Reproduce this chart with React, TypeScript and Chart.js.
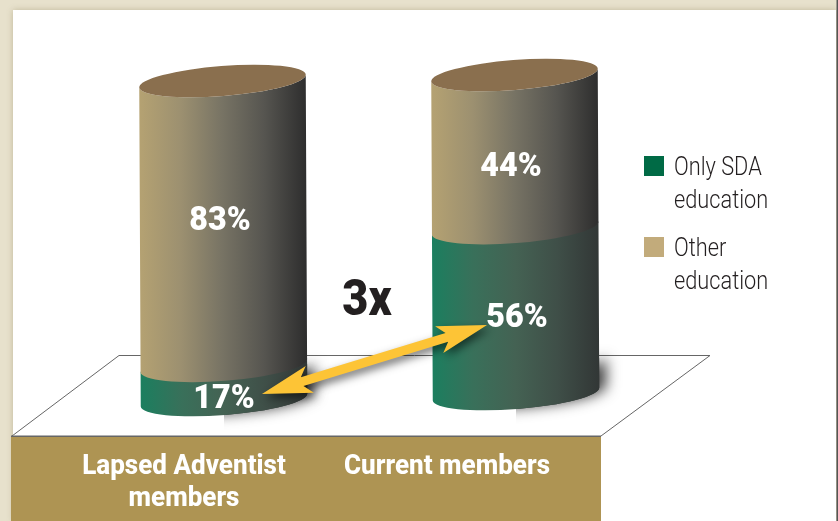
import React, { useEffect, useRef } from "react";
import { Chart, registerables } from "chart.js";

Chart.register(...registerables);

const categories = [["Lapsed Adventist", "members"], ["Current members"]];
// Printed percentages, as labelled in the picture.
const onlySdaLabels = ["17%", "56%"];
const otherLabels = ["83%", "44%"];
// Heights as actually drawn in the picture (the source's art is not to scale with its labels).
const onlySdaDrawn = [10.7, 52];
const otherDrawn = [89.3, 48];
const legendOnlySda = ["Only SDA", "education"];
const legendOther = ["Other", "education"];
const callout = "3x";

const COL = {
  page: "#e7e1cc", panel: "#ffffff", base: "#ae9453", line: "#666666",
  top: "#8a6f4e", sda: "#006a45", other: "#c2ab7b", arrow: "#fdc436", ink: "#231f20",
};
const FONT = "Roboto, sans-serif";
const TILT = -0.078;
const A = 83.5, B = 15;
const CYL_DY = [3, -3];
const LEAN = 1.5;

function gradient(ctx: CanvasRenderingContext2D, x0: number, x1: number, stops: string[]) {
  const g = ctx.createLinearGradient(x0, 0, x1, 0);
  stops.forEach((c, i) => g.addColorStop(i / (stops.length - 1), c));
  return g;
}

function text(ctx: CanvasRenderingContext2D, s: string, x: number, y: number, font: string, color: string, sx = 1, align: CanvasTextAlign = "center") {
  ctx.save();
  ctx.font = font;
  ctx.fillStyle = color;
  ctx.textAlign = align;
  ctx.textBaseline = "middle";
  ctx.translate(x, y);
  ctx.scale(sx, 1);
  ctx.fillText(s, 0, 0);
  ctx.restore();
}

function segment(ctx: CanvasRenderingContext2D, xb: number, yb: number, xt: number, yt: number) {
  ctx.beginPath();
  ctx.ellipse(xb, yb, A, B, TILT, 0, Math.PI, false);
  ctx.ellipse(xt, yt, A, B, TILT, Math.PI, 0, true);
  ctx.closePath();
}

function arrow(ctx: CanvasRenderingContext2D, ax: number, ay: number, bx: number, by: number) {
  const L = Math.hypot(bx - ax, by - ay);
  const ux = (bx - ax) / L, uy = (by - ay) / L;
  const nx = -uy, ny = ux;
  const p = (t: number, s: number): [number, number] => [ax + ux * t + nx * s, ay + uy * t + ny * s];
  const pts = [
    p(0, 0), p(50, 14), p(42, 4.5), p(L - 42, 4.5), p(L - 50, 14), p(L, 0),
    p(L - 50, -14), p(L - 42, -4.5), p(42, -4.5), p(50, -14),
  ];
  ctx.beginPath();
  pts.forEach(([x, y], i) => (i ? ctx.lineTo(x, y) : ctx.moveTo(x, y)));
  ctx.closePath();
  ctx.fill();
}

const cylinderPlugin = {
  id: "cylinders",
  beforeDraw(chart: any) {
    const ctx: CanvasRenderingContext2D = chart.ctx;
    ctx.save();
    ctx.fillStyle = COL.page;
    ctx.fillRect(0, 0, 838, 521);
    ctx.shadowColor = "rgba(120,105,60,0.35)";
    ctx.shadowBlur = 6;
    ctx.fillStyle = COL.panel;
    ctx.fillRect(13, 10, 823, 511);
    ctx.shadowColor = "transparent";
    ctx.fillStyle = "#555555";
    ctx.fillRect(836.5, 0, 1.5, 521);
    // floor
    ctx.strokeStyle = COL.line;
    ctx.lineWidth = 1;
    ctx.beginPath();
    ctx.moveTo(12, 436);
    ctx.lineTo(119, 355.5);
    ctx.lineTo(710, 355.5);
    ctx.lineTo(601, 436);
    ctx.stroke();
    ctx.fillStyle = COL.base;
    ctx.fillRect(11, 436, 590, 85);
    ctx.fillStyle = COL.line;
    ctx.fillRect(11, 435.5, 590, 1.5);
    ctx.restore();
  },
  afterDatasetsDraw(chart: any) {
    const ctx: CanvasRenderingContext2D = chart.ctx;
    const lower = chart.getDatasetMeta(0).data;
    const upper = chart.getDatasetMeta(1).data;
    const centres: { x: number; sda: number; other: number }[] = [];

    lower.forEach((bar: any, i: number) => {
      const up = upper[i];
      const dy = CYL_DY[i];
      const yBot = bar.base + dy, ySplit = bar.y + dy, yTop = up.y + dy;
      const xTop = bar.x - 0.5;
      const xAt = (y: number) => xTop + LEAN * (y - yTop) / (yBot - yTop);
      const xs = xAt(ySplit), xb = xAt(yBot);

      // soft shadow, clipped to the right of the cylinder's left edge
      ctx.save();
      ctx.beginPath();
      ctx.rect(xb, 0, 838 - xb, 521);
      ctx.clip();
      ctx.shadowColor = "rgba(0,0,0,0.75)";
      ctx.shadowBlur = 14;
      ctx.shadowOffsetX = 7;
      ctx.shadowOffsetY = -2;
      ctx.fillStyle = "#333a38";
      const yShadow = Math.max(ySplit, yBot - 30);
      segment(ctx, xb, yBot, xAt(yShadow), yShadow);
      ctx.fill();
      ctx.restore();

      ctx.fillStyle = gradient(ctx, xs - A, xs + A, ["#1b7f5f", "#39705a", "#446253", "#3f4f48", "#323736"]);
      segment(ctx, xb, yBot, xs, ySplit - 1);
      ctx.fill();

      ctx.fillStyle = gradient(ctx, xTop - A, xTop + A, ["#b5a272", "#9c9070", "#777364", "#565550", "#2e2e2e"]);
      segment(ctx, xs, ySplit, xTop, yTop);
      ctx.fill();

      ctx.fillStyle = COL.top;
      ctx.beginPath();
      ctx.ellipse(xTop, yTop, A, B, TILT, 0, Math.PI * 2);
      ctx.fill();

      centres.push({ x: bar.x, sda: (yBot + ySplit) / 2, other: (ySplit + yTop) / 2 });
    });

    // arrow between the two Only-SDA segments
    ctx.save();
    ctx.shadowColor = "rgba(0,0,0,0.55)";
    ctx.shadowBlur = 9;
    ctx.shadowOffsetX = 3;
    ctx.shadowOffsetY = 4;
    ctx.fillStyle = COL.arrow;
    arrow(ctx, centres[0].x + 39, centres[0].sda + 11, centres[1].x - 28, centres[1].sda + 14);
    ctx.restore();

    // value labels
    const big = `900 34px ${FONT}`;
    const off = [
      { sda: [1, 17], other: [-3, -2] },
      { sda: [2, 7], other: [-4, 16] },
    ];
    centres.forEach((c, i) => {
      text(ctx, onlySdaLabels[i], c.x + off[i].sda[0], c.sda + off[i].sda[1], big, "#ffffff", 0.95);
      text(ctx, otherLabels[i], c.x + off[i].other[0], c.other + off[i].other[1], big, "#ffffff", 0.95);
    });

    text(ctx, callout, 367, 302, `900 50px ${FONT}`, COL.ink, 0.9);

    // category labels under the bars
    const catFont = `800 28px ${FONT}`;
    const catX = [184, 447];
    categories.forEach((lines, i) => {
      lines.forEach((s, j) => text(ctx, s, catX[i], 467 + j * 32, catFont, "#ffffff", 0.93));
    });

    // legend
    const legend = [
      { y: 156, color: COL.sda, lines: legendOnlySda },
      { y: 237, color: COL.other, lines: legendOther },
    ];
    legend.forEach((l) => {
      ctx.fillStyle = l.color;
      ctx.fillRect(644, l.y, 20, 20);
      l.lines.forEach((s, j) => text(ctx, s, 674, l.y + 13 + j * 33, `300 25px ${FONT}`, COL.ink, 0.87, "left"));
    });
  },
};

export default function App() {
  const ref = useRef<HTMLCanvasElement>(null);
  useEffect(() => {
    document.body.style.margin = "0";
    const chart = new Chart(ref.current!, {
      type: "bar",
      data: {
        labels: categories.map((c) => c.join(" ")),
        datasets: [
          { label: "Only SDA education", data: onlySdaDrawn, backgroundColor: "transparent" },
          { label: "Other education", data: otherDrawn, backgroundColor: "transparent" },
        ],
      },
      options: {
        responsive: false,
        animation: false,
        layout: { padding: { left: 77, right: 177, top: 78, bottom: 124 } },
        datasets: { bar: { categoryPercentage: 1, barPercentage: 0.572 } },
        plugins: { legend: { display: false }, tooltip: { enabled: false } },
        scales: {
          x: { stacked: true, display: false },
          y: { stacked: true, display: false, min: 0, max: 100 },
        },
      },
      plugins: [cylinderPlugin],
    } as any);
    return () => chart.destroy();
  }, []);
  return <canvas ref={ref} width={838} height={521} style={{ display: "block" }} />;
}
